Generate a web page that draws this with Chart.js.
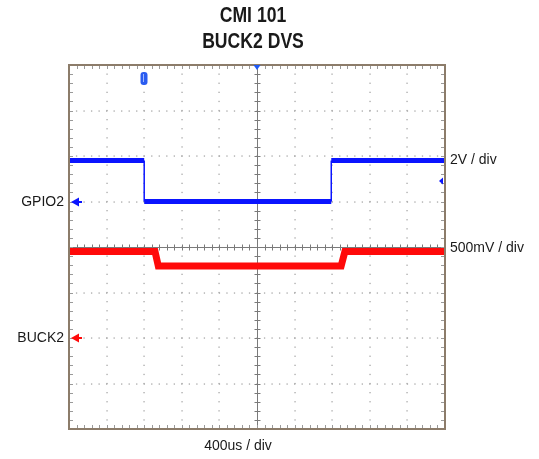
<!DOCTYPE html>
<html>
<head>
<meta charset="utf-8">
<script src="https://cdn.jsdelivr.net/npm/chart.js@4.4.1/dist/chart.umd.min.js"></script>
<style>
  html, body { margin: 0; padding: 0; background: #fff; }
  #wrap { width: 539px; height: 459px; }
</style>
</head>
<body>
<div id="wrap"><canvas id="scope" width="539" height="459"></canvas></div>
<script>
// scope capture
const titleLines = ['CMI 101', 'BUCK2 DVS'];
const channelNames = ['GPIO2', 'BUCK2'];
const channelScales = ['2V / div', '500mV / div'];
const timeScaleLabel = '400us / div';

// GPIO2 (2V/div), time in us
const gpioTimes = [-2000, -1200, -1200, 790, 790, 2000];
const gpioVolts = [1.8, 1.8, 0, 0, 1.8, 1.8];

// BUCK2 (500mV/div)
const buckTimes = [-2000, -1085, -1050, 895, 935, 2000];
const buckVolts = [0.95, 0.95, 0.79, 0.79, 0.95, 0.95];

// trigger
const trigTimeUs = -1200;
const trigLevelV = 0.9;

const usPerDiv = 400;
const gpioVoltsPerDiv = 2;
const buckVoltsPerDiv = 0.5;

function pts(xs, ys) {
  return xs.map(function (x, i) { return { x: x, y: ys[i] }; });
}

const frameColor = '#8c7c6a';
const BLUE = '#0a14ff';
const RED = '#ff0a0a';

var graticule = {
  id: 'graticule',
  beforeDatasetsDraw: function (chart) {
    var ctx = chart.ctx;
    var xs = chart.scales.x, ys = chart.scales.y;
    var a = chart.chartArea;
    var xDivs = [], yDivs = [];
    for (var t = xs.min; t <= xs.max + 1e-6; t += usPerDiv) xDivs.push(xs.getPixelForValue(t));
    for (var v = ys.min; v <= ys.max + 1e-6; v += gpioVoltsPerDiv) yDivs.push(ys.getPixelForValue(v));
    var dx = (xDivs[1] - xDivs[0]) / 5, dy = (yDivs[0] - yDivs[1]) / 5;
    ctx.save();
    // dotted grid
    ctx.fillStyle = '#a8a8a8';
    for (var i = 1; i < xDivs.length - 1; i++) {
      if (i === 5) continue;
      for (var k = 0; k <= 40; k++) {
        ctx.fillRect(Math.round(xDivs[i]) - 0.6, a.top + k * dy - 0.6, 1.3, 1.3);
      }
    }
    for (var j = 1; j < yDivs.length - 1; j++) {
      if (j === 4) continue;
      for (var k = 0; k <= 50; k++) {
        ctx.fillRect(a.left + k * dx - 0.6, Math.round(yDivs[j]) - 0.6, 1.3, 1.3);
      }
    }
    // centre cross with minor ticks
    var cx = Math.round(xDivs[5]) + 0.5, cy = Math.round(yDivs[4]) + 0.5;
    ctx.strokeStyle = '#7a7a7a';
    ctx.lineWidth = 1;
    ctx.beginPath();
    ctx.moveTo(cx, a.top); ctx.lineTo(cx, a.bottom);
    ctx.moveTo(a.left, cy); ctx.lineTo(a.right, cy);
    for (var k = 1; k < 50; k++) {
      var px = Math.round(a.left + k * dx) + 0.5;
      ctx.moveTo(px, cy - 3); ctx.lineTo(px, cy + 3);
    }
    for (var k = 1; k < 40; k++) {
      var py = Math.round(a.top + k * dy) + 0.5;
      ctx.moveTo(cx - 3, py); ctx.lineTo(cx + 3, py);
    }
    ctx.stroke();
    // frame ticks
    ctx.strokeStyle = '#9a9a9a';
    ctx.beginPath();
    for (var k = 1; k < 50; k++) {
      var px = Math.round(a.left + k * dx) + 0.5;
      ctx.moveTo(px, a.top); ctx.lineTo(px, a.top + 4);
      ctx.moveTo(px, a.bottom); ctx.lineTo(px, a.bottom - 4);
    }
    for (var k = 1; k < 40; k++) {
      var py = Math.round(a.top + k * dy) + 0.5;
      ctx.moveTo(a.left, py); ctx.lineTo(a.left + 4, py);
      ctx.moveTo(a.right, py); ctx.lineTo(a.right - 4, py);
    }
    ctx.stroke();
    ctx.restore();
  },
  afterDraw: function (chart) {
    var ctx = chart.ctx;
    var xs = chart.scales.x, ys = chart.scales.y, y2 = chart.scales.y2;
    var a = chart.chartArea;
    ctx.save();
    // frame
    ctx.strokeStyle = frameColor;
    ctx.lineWidth = 2;
    ctx.strokeRect(a.left, a.top, a.right - a.left, a.bottom - a.top);

    // title, condensed
    ctx.save();
    ctx.fillStyle = '#1a1a1a';
    ctx.textAlign = 'center';
    ctx.textBaseline = 'middle';
    ctx.font = 'bold 22px "Liberation Sans", Arial, sans-serif';
    ctx.translate(253, 0);
    ctx.scale(0.8, 1);
    ctx.fillText(titleLines[0], 0, 16);
    ctx.fillText(titleLines[1], 0, 42);
    ctx.restore();

    // channel ground markers
    ctx.textBaseline = 'middle';
    ctx.font = '14px "Liberation Sans", Arial, sans-serif';
    var grounds = [ys.getPixelForValue(0), y2.getPixelForValue(0)];
    var cols = [BLUE, RED];
    for (var i = 0; i < 2; i++) {
      var gy = Math.round(grounds[i]);
      ctx.fillStyle = '#1a1a1a';
      ctx.textAlign = 'right';
      ctx.fillText(channelNames[i], 64, gy);
      ctx.fillStyle = cols[i];
      ctx.strokeStyle = cols[i];
      ctx.beginPath();
      ctx.moveTo(a.left + 2, gy);
      ctx.lineTo(a.left + 10, gy - 4.5);
      ctx.lineTo(a.left + 10, gy + 4.5);
      ctx.closePath();
      ctx.fill();
      ctx.lineWidth = 2;
      ctx.beginPath();
      ctx.moveTo(a.left + 9, gy); ctx.lineTo(a.left + 13, gy);
      ctx.stroke();
    }

    // volts per div labels
    ctx.fillStyle = '#1a1a1a';
    ctx.textAlign = 'left';
    ctx.fillText(channelScales[0], a.right + 5, ys.getPixelForValue(gpioVolts[gpioVolts.length - 1]));
    ctx.fillText(channelScales[1], a.right + 5, y2.getPixelForValue(buckVolts[buckVolts.length - 1]) - 3);

    // time per div
    ctx.textAlign = 'center';
    ctx.fillText(timeScaleLabel, 238, 446);

    // trigger position marker
    var tx = Math.round(xs.getPixelForValue(trigTimeUs));
    ctx.fillStyle = '#2a5cf0';
    ctx.beginPath();
    ctx.roundRect(tx - 3.5, a.top + 7, 7, 13, 3);
    ctx.fill();
    ctx.fillStyle = '#9fb8ff';
    ctx.fillRect(tx - 1, a.top + 9, 1, 8);

    // centre (delay) marker
    var cx = xs.getPixelForValue(0);
    ctx.fillStyle = '#1f5af5';
    ctx.beginPath();
    ctx.moveTo(cx - 3.5, a.top);
    ctx.lineTo(cx + 3.5, a.top);
    ctx.lineTo(cx, a.top + 5);
    ctx.closePath();
    ctx.fill();

    // trigger level marker
    var ty = Math.round(ys.getPixelForValue(trigLevelV));
    ctx.fillStyle = BLUE;
    ctx.beginPath();
    ctx.moveTo(a.right - 6, ty);
    ctx.lineTo(a.right - 2, ty - 3.5);
    ctx.lineTo(a.right - 2, ty + 3.5);
    ctx.closePath();
    ctx.fill();
    ctx.restore();
  }
};

new Chart(document.getElementById('scope'), {
  type: 'line',
  data: {
    datasets: [
      {
        label: channelNames[0],
        data: pts(gpioTimes, gpioVolts),
        yAxisID: 'y',
        borderColor: BLUE,
        borderWidth: 5,
        pointRadius: 0,
        segment: {
          borderWidth: function (c) { return c.p0.parsed.x === c.p1.parsed.x ? 1.5 : 5; }
        }
      },
      {
        label: channelNames[1],
        data: pts(buckTimes, buckVolts),
        yAxisID: 'y2',
        borderColor: RED,
        borderWidth: 7,
        pointRadius: 0
      }
    ]
  },
  options: {
    responsive: false,
    animation: false,
    layout: { padding: { left: 69, right: 94, top: 65, bottom: 30 } },
    plugins: { legend: { display: false }, tooltip: { enabled: false }, title: { display: false } },
    scales: {
      x: { type: 'linear', min: -2000, max: 2000, display: false },
      y: { type: 'linear', min: -10, max: 6, display: false },
      y2: { type: 'linear', min: -1, max: 3, display: false }
    }
  },
  plugins: [graticule]
});
</script>
</body>
</html>
